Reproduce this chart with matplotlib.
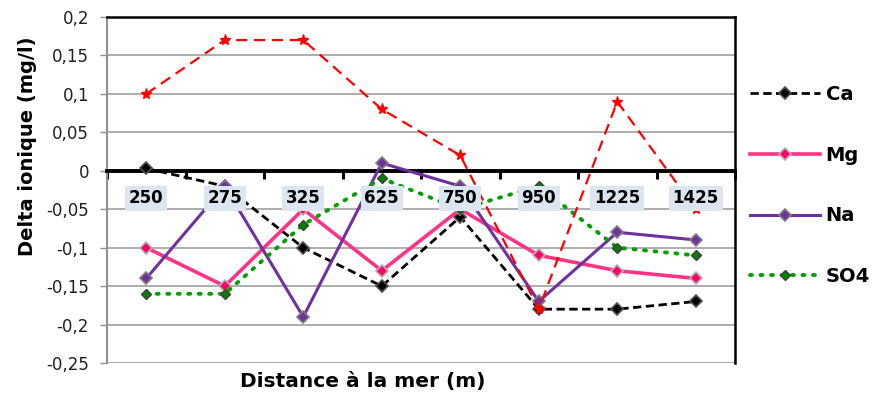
import numpy as np
import matplotlib
matplotlib.use("Agg")
import matplotlib.pyplot as plt
from matplotlib.ticker import FuncFormatter

# distances (categories)
distances = ['250', '275', '325', '625', '750', '950', '1225', '1425']

ca = [0.003, -0.02, -0.10, -0.15, -0.06, -0.18, -0.18, -0.17]
mg = [-0.10, -0.15, -0.05, -0.13, -0.05, -0.11, -0.13, -0.14]
na = [-0.14, -0.02, -0.19, 0.01, -0.02, -0.17, -0.08, -0.09]
so4 = [-0.16, -0.16, -0.07, -0.01, -0.05, -0.02, -0.10, -0.11]
k = [0.10, 0.17, 0.17, 0.08, 0.02, -0.18, 0.09, -0.05]


def fr_fmt(v, pos):
    s = ('%.2f' % v).rstrip('0').rstrip('.')
    if s in ('-0', ''):
        s = '0'
    return s.replace('.', ',')


def main():
    fig = plt.figure(figsize=(8.75, 3.95), dpi=100)
    ax = fig.add_axes([0.1223, 0.081, 0.7177, 0.876])
    x = np.arange(len(distances))

    ax.plot(x, ca, color='black', ls=(0, (3, 1.6)), lw=2, marker='D', ms=6,
            mfc='black', mec='#505050', mew=1.2, label='Ca', zorder=3)
    ax.plot(x, mg, color='#ff3385', lw=2.6, marker='D', ms=6,
            mfc='#ff0066', mec='#b0b0b0', mew=1.2, label='Mg', zorder=3)
    ax.plot(x, na, color='#7030a0', lw=2.2, marker='D', ms=6.5,
            mfc='#7030a0', mec='#808080', mew=1.2, label='Na', zorder=3)
    ax.plot(x, so4, color='#00a000', ls=(0, (0.5, 2.2)), lw=2.8,
            dash_capstyle='round', marker='D', ms=5, mfc='#008000',
            mec='#404040', mew=1, label='SO4', zorder=3)
    ax.plot(x, k, color='#ff0000', ls=(0, (5, 3)), lw=1.6, marker='*', ms=8,
            mfc='#ff0000', mec='#ff0000', zorder=4)

    ax.set_xlim(-0.5, len(distances) - 0.5)
    ax.set_ylim(-0.25, 0.2)
    ax.set_yticks(np.arange(-0.25, 0.2001, 0.05))
    ax.yaxis.set_major_formatter(FuncFormatter(fr_fmt))
    ax.grid(axis='y', color='#a0a0a0', lw=1.2)
    ax.set_axisbelow(True)

    ax.spines['bottom'].set_position(('data', 0))
    ax.spines['bottom'].set_linewidth(2.8)
    ax.spines['bottom'].set_color('black')
    ax.spines['top'].set_linewidth(1.8)
    ax.spines['right'].set_linewidth(1.8)
    ax.spines['left'].set_color('#909090')
    ax.spines['left'].set_linewidth(1.5)

    ax.set_xticks(np.arange(-0.5, len(distances), 1))
    ax.set_xticklabels([])
    ax.tick_params(axis='x', direction='out', length=6, width=2.2, color='black')
    ax.tick_params(axis='y', direction='out', length=5, width=1, color='#909090',
                   labelsize=12, labelcolor='#202020', pad=8)

    for i, lab in enumerate(distances):
        ax.text(i, -0.036, lab, ha='center', va='center', fontsize=12,
                fontweight='bold', zorder=6,
                bbox=dict(boxstyle='square,pad=0.22', fc='#dce6f2', ec='none'))

    fig.text(0.032, 0.63, 'Delta ionique (mg/l)', rotation=90, ha='center',
             va='center', fontsize=14, fontweight='bold')
    fig.text(0.415, 0.035, 'Distance à la mer (m)', ha='center', va='center',
             fontsize=14.5, fontweight='bold')

    ax.legend(loc='upper left', bbox_to_anchor=(0.848, 0.805),
              bbox_transform=fig.transFigure, frameon=False,
              prop={'weight': 'bold', 'size': 14}, handlelength=3.6,
              labelspacing=2.15, handletextpad=0.3, borderaxespad=0)

    fig.savefig('out.png', dpi=100)


if __name__ == '__main__':
    main()
